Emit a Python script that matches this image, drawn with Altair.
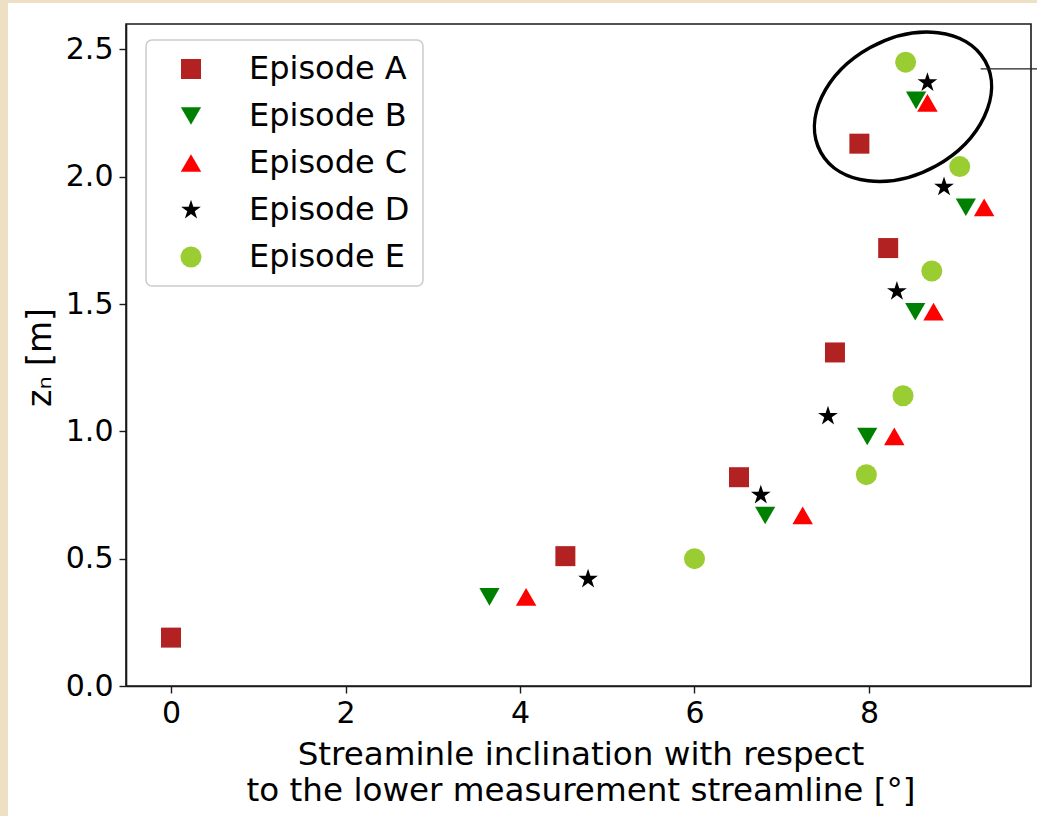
import altair as alt
import pandas as pd

FONT = "DejaVu Sans"

# Streamline inclination (deg) and height z_n (m) for each measurement episode
episodes = ["Episode A", "Episode B", "Episode C", "Episode D", "Episode E"]
incl_a = [0.00, 4.52, 6.51, 7.61, 8.22, 7.89]
z_a = [0.19, 0.51, 0.82, 1.31, 1.72, 2.13]
incl_b = [3.65, 6.81, 7.98, 8.53, 9.11, 8.54]
z_b = [0.35, 0.67, 0.98, 1.47, 1.88, 2.30]
incl_c = [4.07, 7.24, 8.29, 8.74, 9.32, 8.67]
z_c = [0.35, 0.67, 0.98, 1.47, 1.88, 2.29]
incl_d = [4.78, 6.76, 7.53, 8.32, 8.86, 8.67]
z_d = [0.42, 0.75, 1.06, 1.55, 1.96, 2.37]
incl_e = [6.00, 7.97, 8.39, 8.72, 9.04, 8.42]
z_e = [0.50, 0.83, 1.14, 1.63, 2.04, 2.45]

# five-pointed star outline in the unit box (Vega has no built-in star)
STAR = ("M 0 -1 L 0.2245 -0.309 L 0.9511 -0.309 L 0.3633 0.118 L 0.5878 0.809 "
        "L 0 0.382 L -0.5878 0.809 L -0.3633 0.118 L -0.9511 -0.309 L -0.2245 -0.309 Z")

shapes = ["square", "triangle-down", "triangle-up", STAR, "circle"]
colors = ["#b22222", "#008000", "#ff0000", "#000000", "#9acd32"]
sizes = [400, 440, 440, 360, 400]

x_ticks = [0, 2, 4, 6, 8]
y_ticks = [0.0, 0.5, 1.0, 1.5, 2.0, 2.5]
x_domain = [-0.516, 9.857]
y_domain = [0.0, 2.6]

x_title = ["Streaminle inclination with respect", "to the lower measurement streamline [°]"]
y_title = "zₙ [m]"

# highlighted group of top points (ellipse centre in data units) and its leader line
ring_incl, ring_z = [8.39], [2.275]
leader_incl, leader_end, leader_z = [9.28], [9.93], [2.424]

W, H = 905, 662
PAD_L, PAD_T = 126, 24

rows = []
for name, xs, ys in zip(episodes, [incl_a, incl_b, incl_c, incl_d, incl_e],
                        [z_a, z_b, z_c, z_d, z_e]):
    rows += [{"episode": name, "incl": xv, "z": yv} for xv, yv in zip(xs, ys)]
df = pd.DataFrame(rows)

x_enc = alt.X(
    "incl:Q",
    scale=alt.Scale(domain=x_domain, nice=False, zero=False),
    axis=alt.Axis(
        values=x_ticks, format="d", title=x_title, grid=False,
        titleY=78, titleX=W / 2 + 2, titleAlign="center", titleBaseline="alphabetic",
        titleLineHeight=36, titleFontSize=32.6, labelFontSize=30, labelPadding=5,
        zindex=1,
    ),
)
y_enc = alt.Y(
    "z:Q",
    scale=alt.Scale(domain=y_domain, nice=False, zero=False),
    axis=alt.Axis(
        values=y_ticks, format=".1f", title=y_title, grid=False,
        titleX=-76, titleY=333, titleAngle=270, titleAlign="center",
        titleBaseline="alphabetic", titleFontSize=33, labelFontSize=30,
        labelPadding=6, zindex=1,
    ),
)

# white figure sheet over the page colour
sheet = alt.Chart(pd.DataFrame({"k": [0]})).mark_rect(fill="white", strokeWidth=0).encode(
    x=alt.value(8 - PAD_L), x2=alt.value(1037 - PAD_L),
    y=alt.value(3 - PAD_T), y2=alt.value(816 - PAD_T),
)

frame = alt.Chart(pd.DataFrame({"k": [0]})).mark_rect(
    fillOpacity=0, stroke="#1a1a1a", strokeWidth=1.6
).encode(x=alt.value(0), x2=alt.value(W), y=alt.value(0), y2=alt.value(H))

points = alt.Chart(df).mark_point(filled=True, opacity=1, strokeWidth=0).encode(
    x=x_enc,
    y=y_enc,
    shape=alt.Shape("episode:N", scale=alt.Scale(domain=episodes, range=shapes)),
    color=alt.Color("episode:N", scale=alt.Scale(domain=episodes, range=colors)),
    size=alt.Size("episode:N", scale=alt.Scale(domain=episodes, range=sizes)),
)

# ellipse outline as a custom symbol (unit-box path, rotated)
ellipse_path = (
    "M 1 0 C 1 0.3977 0.5523 0.72 0 0.72 "
    "C -0.5523 0.72 -1 0.3977 -1 0 "
    "C -1 -0.3977 -0.5523 -0.72 0 -0.72 "
    "C 0.5523 -0.72 1 -0.3977 1 0 Z"
)
ring = alt.Chart(pd.DataFrame({"incl": ring_incl, "z": ring_z})).mark_point(
    shape=ellipse_path, size=188 * 188, angle=331, filled=False,
    stroke="black", strokeWidth=3.5, opacity=1,
).encode(x="incl:Q", y="z:Q")

leader = alt.Chart(pd.DataFrame({"incl": leader_incl, "incl_end": leader_end, "z": leader_z})).mark_rule(
    color="#222222", strokeWidth=1.3, clip=False
).encode(x="incl:Q", x2="incl_end:Q", y="z:Q")

chart = alt.layer(sheet, frame, points, ring, leader).properties(
    width=W, height=H,
    autosize=alt.AutoSizeParams(type="none"),
    padding={"left": PAD_L, "top": PAD_T, "right": 1037 - PAD_L - W, "bottom": 816 - PAD_T - H},
    background="#eee1c3",
).configure_view(
    stroke=None, fill="white"
).configure_axis(
    labelFont=FONT, titleFont=FONT, labelColor="black", titleColor="black",
    titleFontWeight="normal", domainColor="#1a1a1a", domainWidth=1.6,
    tickColor="#1a1a1a", tickWidth=1.4, tickSize=7,
).configure_legend(
    orient="none", legendX=20, legendY=16, title=None,
    labelFont=FONT, labelFontSize=32, labelColor="black", labelLimit=400,
    padding=13, rowPadding=15, symbolOffset=16, labelOffset=42,
    fillColor="white", strokeColor="#cccccc", strokeWidth=1.5, cornerRadius=6,
    symbolStrokeWidth=0, symbolOpacity=1,
)

chart.save("out.html", embed_options={"renderer": "svg", "actions": False})
